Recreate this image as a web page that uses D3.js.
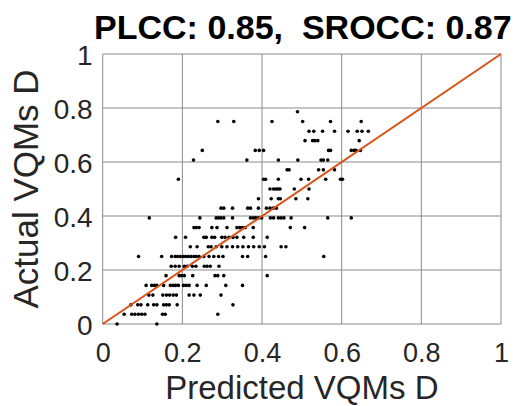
<!DOCTYPE html>
<html>
<head>
<meta charset="utf-8">
<script src="https://cdn.jsdelivr.net/npm/d3@7"></script>
<style>
  body { margin: 0; background: #fff; }
  svg { display: block; }
</style>
</head>
<body>
<div id="chart"></div>
<script>
// scatter of predicted vs actual VQMs D, MATLAB look

var title = "PLCC: 0.85,  SROCC: 0.87";
var xLabel = "Predicted VQMs D";
var yLabel = "Actual VQMs D";
var tickValues = [0, 0.2, 0.4, 0.6, 0.8, 1];
var tickLabels = ["0", "0.2", "0.4", "0.6", "0.8", "1"];

// one row per line, actual value is the same along a row
var predicted = [
  0.036, 0.136,
  0.054, 0.073, 0.081, 0.090, 0.098, 0.106, 0.150, 0.157, 0.289,
  0.071, 0.088, 0.096, 0.113, 0.128, 0.136, 0.153, 0.160, 0.167, 0.187, 0.327,
  0.116, 0.126, 0.151, 0.160, 0.168, 0.177, 0.185, 0.217, 0.229, 0.245, 0.297,
  0.109, 0.123, 0.130, 0.136, 0.153, 0.170, 0.177, 0.183, 0.190, 0.203, 0.210, 0.217, 0.237, 0.260, 0.309, 0.351,
  0.159, 0.192, 0.198, 0.205, 0.226, 0.282, 0.289, 0.304, 0.413,
  0.172, 0.182, 0.192, 0.205, 0.212, 0.225, 0.234, 0.255, 0.262, 0.270, 0.292,
  0.090, 0.148, 0.173, 0.182, 0.188, 0.195, 0.202, 0.208, 0.215, 0.222, 0.229, 0.235, 0.242, 0.254, 0.267, 0.279, 0.291, 0.302, 0.351, 0.364, 0.409, 0.555,
  0.220, 0.237, 0.265, 0.272, 0.285, 0.299, 0.312, 0.326, 0.339, 0.352, 0.366, 0.379, 0.393, 0.406, 0.448, 0.460,
  0.183, 0.208, 0.254, 0.260, 0.274, 0.281, 0.299, 0.307, 0.317, 0.327, 0.337, 0.354, 0.378, 0.413,
  0.229, 0.235, 0.242, 0.274, 0.287, 0.312, 0.337, 0.344, 0.351, 0.358, 0.378, 0.471, 0.507,
  0.117, 0.244, 0.285, 0.291, 0.297, 0.304, 0.326, 0.371, 0.378, 0.384, 0.391, 0.399, 0.421, 0.429, 0.441, 0.448, 0.455, 0.473, 0.565, 0.624,
  0.297, 0.304, 0.326, 0.364, 0.371, 0.391, 0.411, 0.420, 0.428, 0.436,
  0.391, 0.423, 0.441, 0.446, 0.485, 0.515,
  0.420, 0.429, 0.435, 0.440, 0.445, 0.481, 0.518,
  0.190, 0.404, 0.409, 0.441, 0.498, 0.517, 0.560, 0.597, 0.602,
  0.463, 0.468, 0.542, 0.554, 0.582,
  0.228, 0.362, 0.441, 0.490, 0.548, 0.554, 0.565,
  0.250, 0.383, 0.393, 0.404, 0.567, 0.572, 0.624, 0.631, 0.636, 0.647,
  0.508, 0.527, 0.533, 0.540, 0.644,
  0.518, 0.530, 0.552, 0.582, 0.616, 0.639, 0.651, 0.667,
  0.289, 0.329, 0.425, 0.502, 0.572, 0.649,
  0.489
];
var actual = [
  0.000, 0.000,
  0.036, 0.036, 0.036, 0.036, 0.036, 0.036, 0.036, 0.036, 0.036,
  0.071, 0.071, 0.071, 0.071, 0.071, 0.071, 0.071, 0.071, 0.071, 0.071, 0.071,
  0.107, 0.107, 0.107, 0.107, 0.107, 0.107, 0.107, 0.107, 0.107, 0.107, 0.107,
  0.143, 0.143, 0.143, 0.143, 0.143, 0.143, 0.143, 0.143, 0.143, 0.143, 0.143, 0.143, 0.143, 0.143, 0.143, 0.143,
  0.179, 0.179, 0.179, 0.179, 0.179, 0.179, 0.179, 0.179, 0.179,
  0.214, 0.214, 0.214, 0.214, 0.214, 0.214, 0.214, 0.214, 0.214, 0.214, 0.214,
  0.250, 0.250, 0.250, 0.250, 0.250, 0.250, 0.250, 0.250, 0.250, 0.250, 0.250, 0.250, 0.250, 0.250, 0.250, 0.250, 0.250, 0.250, 0.250, 0.250, 0.250, 0.250,
  0.286, 0.286, 0.286, 0.286, 0.286, 0.286, 0.286, 0.286, 0.286, 0.286, 0.286, 0.286, 0.286, 0.286, 0.286, 0.286,
  0.321, 0.321, 0.321, 0.321, 0.321, 0.321, 0.321, 0.321, 0.321, 0.321, 0.321, 0.321, 0.321, 0.321,
  0.357, 0.357, 0.357, 0.357, 0.357, 0.357, 0.357, 0.357, 0.357, 0.357, 0.357, 0.357, 0.357,
  0.393, 0.393, 0.393, 0.393, 0.393, 0.393, 0.393, 0.393, 0.393, 0.393, 0.393, 0.393, 0.393, 0.393, 0.393, 0.393, 0.393, 0.393, 0.393, 0.393,
  0.429, 0.429, 0.429, 0.429, 0.429, 0.429, 0.429, 0.429, 0.429, 0.429,
  0.464, 0.464, 0.464, 0.464, 0.464, 0.464,
  0.500, 0.500, 0.500, 0.500, 0.500, 0.500, 0.500,
  0.536, 0.536, 0.536, 0.536, 0.536, 0.536, 0.536, 0.536, 0.536,
  0.571, 0.571, 0.571, 0.571, 0.571,
  0.607, 0.607, 0.607, 0.607, 0.607, 0.607, 0.607,
  0.643, 0.643, 0.643, 0.643, 0.643, 0.643, 0.643, 0.643, 0.643, 0.643,
  0.679, 0.679, 0.679, 0.679, 0.679,
  0.714, 0.714, 0.714, 0.714, 0.714, 0.714, 0.714, 0.714,
  0.750, 0.750, 0.750, 0.750, 0.750, 0.750,
  0.786
];
// identity reference line
var lineX = [0, 1];
var lineY = [0, 1];

var width = 519;
var height = 406;
var margin = { top: 54, right: 18, bottom: 82, left: 102.7 };
var font = "'Liberation Sans', Arial, Helvetica, sans-serif";
var textColor = "#262626";

var svg = d3.select("#chart")
  .append("svg")
  .attr("width", width)
  .attr("height", height);

var x = d3.scaleLinear().domain([0, 1]).range([margin.left, width - margin.right]);
var y = d3.scaleLinear().domain([0, 1]).range([height - margin.bottom, margin.top]);

// grid
svg.append("g")
  .selectAll("line.vgrid")
  .data(tickValues)
  .enter()
  .append("line")
  .attr("x1", function (d) { return x(d); })
  .attr("x2", function (d) { return x(d); })
  .attr("y1", y(0))
  .attr("y2", y(1))
  .attr("stroke", "#8a8a8a")
  .attr("stroke-width", 1);

svg.append("g")
  .selectAll("line.hgrid")
  .data(tickValues)
  .enter()
  .append("line")
  .attr("y1", function (d) { return y(d); })
  .attr("y2", function (d) { return y(d); })
  .attr("x1", x(0))
  .attr("x2", x(1))
  .attr("stroke", "#8a8a8a")
  .attr("stroke-width", 1);

// points
var points = predicted.map(function (p, i) { return { p: p, a: actual[i] }; });
svg.append("g")
  .selectAll("circle")
  .data(points)
  .enter()
  .append("circle")
  .attr("cx", function (d) { return x(d.p); })
  .attr("cy", function (d) { return y(d.a); })
  .attr("r", 1.8)
  .attr("fill", "#000");

// fit line
svg.append("path")
  .datum(lineX.map(function (v, i) { return [v, lineY[i]]; }))
  .attr("d", d3.line()
    .x(function (d) { return x(d[0]); })
    .y(function (d) { return y(d[1]); }))
  .attr("fill", "none")
  .attr("stroke", "#D95319")
  .attr("stroke-width", 2);

// axes, labels only
var xAxis = svg.append("g")
  .attr("transform", "translate(0," + y(0) + ")")
  .call(d3.axisBottom(x).tickValues(tickValues).tickSize(0).tickPadding(0)
    .tickFormat(function (d, i) { return tickLabels[i]; }));
xAxis.select(".domain").remove();
xAxis.selectAll("text")
  .attr("y", 38)
  .attr("dy", null)
  .style("font-family", font)
  .style("font-size", "27px")
  .attr("fill", textColor);

var yAxis = svg.append("g")
  .attr("transform", "translate(" + x(0) + ",0)")
  .call(d3.axisLeft(y).tickValues(tickValues).tickSize(0).tickPadding(10)
    .tickFormat(function (d, i) { return tickLabels[i]; }));
yAxis.select(".domain").remove();
yAxis.selectAll("text")
  .attr("dy", "0.36em")
  .style("font-family", font)
  .style("font-size", "28px")
  .attr("fill", textColor);

// title and axis labels
svg.append("text")
  .attr("x", (x(0) + x(1)) / 2 + 1)
  .attr("y", 39)
  .attr("text-anchor", "middle")
  .style("white-space", "pre")
  .style("font-family", font)
  .style("font-weight", "bold")
  .style("font-size", "34px")
  .attr("fill", "#000")
  .text(title);

svg.append("text")
  .attr("x", (x(0) + x(1)) / 2)
  .attr("y", 399)
  .attr("text-anchor", "middle")
  .style("font-family", font)
  .style("font-size", "33px")
  .attr("fill", textColor)
  .text(xLabel);

svg.append("text")
  .attr("transform", "translate(38," + (y(0) + y(1)) / 2 + ") rotate(-90)")
  .attr("text-anchor", "middle")
  .style("font-family", font)
  .style("font-size", "35px")
  .attr("fill", textColor)
  .text(yLabel);
</script>
</body>
</html>
